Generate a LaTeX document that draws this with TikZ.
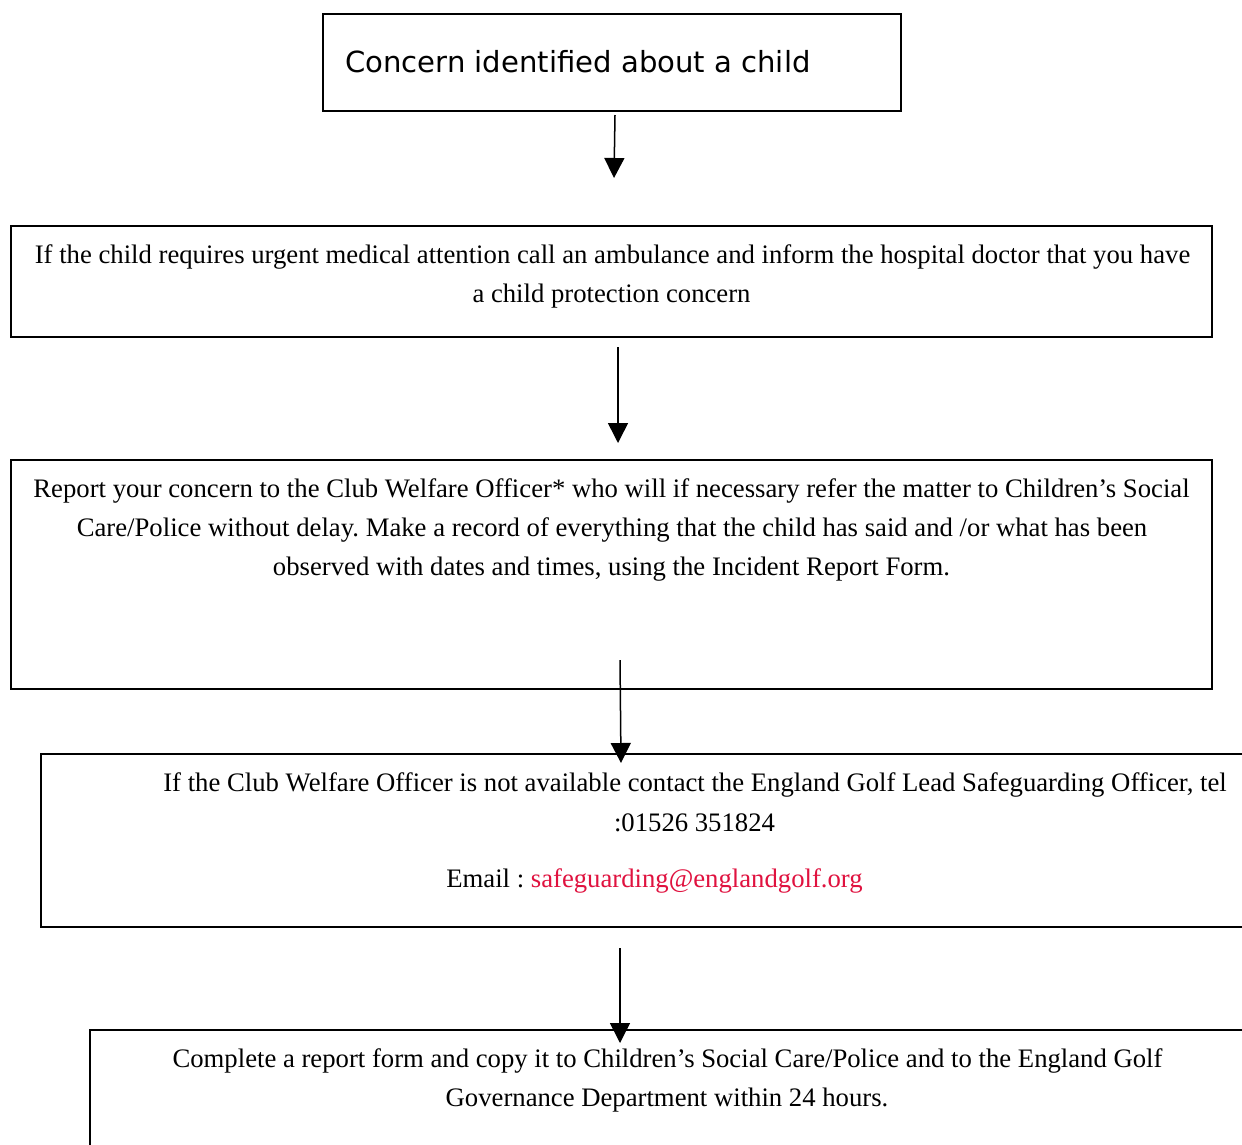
\documentclass[tikz,border=0pt]{standalone}
\usepackage{fontspec}
\setmainfont{Liberation Serif}
\newfontfamily\boxsans{DejaVu Sans}
\usetikzlibrary{arrows.meta}
\definecolor{maillink}{HTML}{E0123F}
\frenchspacing
\begin{document}
\begin{tikzpicture}[x=1pt,y=-1pt,
  frame/.style={draw=black,line width=2.2pt,inner sep=0pt,fill=none},
  txt/.style={font=\fontsize{26.7}{32}\selectfont,inner sep=0pt,anchor=base},
  flow/.style={line width=1.5pt,-{Triangle[length=20pt,width=20pt]}}]
\useasboundingbox (0,0) rectangle (1242,1144);
\clip (0,0) rectangle (1242,1144);
\fill[white] (0,0) rectangle (1242,1144);
% boxes
\node[frame,minimum width=578pt,minimum height=97pt] (b1) at (612,62.5) {};
\node[frame,minimum width=1201pt,minimum height=111pt] (b2) at (611.5,281.5) {};
\node[frame,minimum width=1201pt,minimum height=229pt] (b3) at (611.5,574.5) {};
\node[frame,minimum width=1221pt,minimum height=173pt] (b4) at (651.5,840.5) {};
\node[frame,minimum width=1172pt,minimum height=134pt] (b5) at (676,1097) {};
% texts
\node[inner sep=0pt,anchor=base west,font=\boxsans\fontsize{29.1}{34}\selectfont] (t1) at (345,72) {Concern identified about a child};
\node[txt] (t2a) at (612.5,263) {If the child requires urgent medical attention call an ambulance and inform the hospital doctor that you have};
\node[txt] (t2b) at (611.5,302) {a child protection concern};
\node[txt] (t3a) at (611.5,497) {Report your concern to the Club Welfare Officer* who will if necessary refer the matter to Children’s Social};
\node[txt] (t3b) at (612,536) {Care/Police without delay. Make a record of everything that the child has said and /or what has been};
\node[txt] (t3c) at (611.5,575) {observed with dates and times, using the Incident Report Form.};
\node[txt] (t4a) at (695,791) {If the Club Welfare Officer is not available contact the England Golf Lead Safeguarding Officer, tel};
\node[txt] (t4b) at (694.5,831) {:01526 351824};
\node[txt] (t4c) at (654.5,887) {Email : \textcolor{maillink}{safeguarding@englandgolf.org}};
\node[txt] (t5a) at (667.5,1067) {Complete a report form and copy it to Children’s Social Care/Police and to the England Golf};
\node[txt] (t5b) at (667,1106) {Governance Department within 24 hours.};
% connector ends
\coordinate (a1s) at (615,115);
\coordinate (a1e) at (614,178);
\coordinate (a2s) at (618,347);
\coordinate (a2e) at (618,443);
\coordinate (a3s) at (620,660);
\coordinate (a3e) at (621,763);
\coordinate (a4s) at (620,948);
\coordinate (a4e) at (620,1043);
\draw[flow] (a1s) -- (a1e);
\draw[flow] (a2s) -- (a2e);
\draw[flow] (a3s) -- (a3e);
\draw[flow] (a4s) -- (a4e);
\end{tikzpicture}
\end{document}
